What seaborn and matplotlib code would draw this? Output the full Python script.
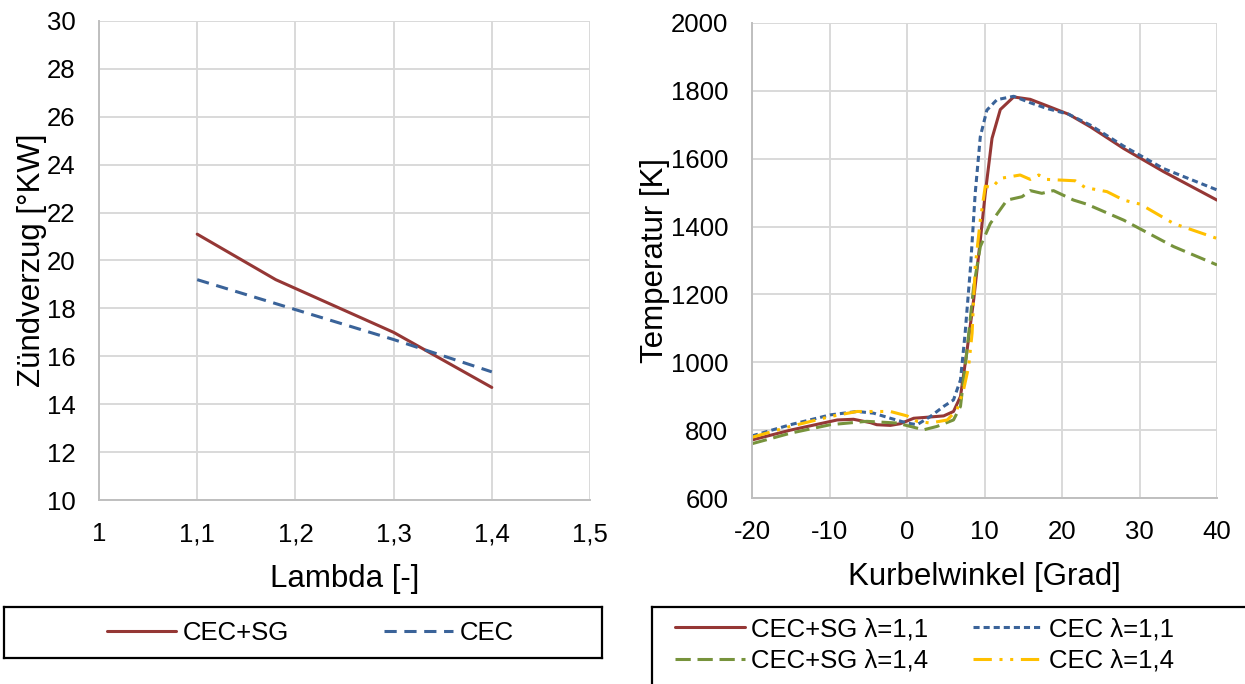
import matplotlib
matplotlib.use("Agg")
import matplotlib.pyplot as plt
import seaborn as sns
import numpy as np
import pandas as pd
from matplotlib.ticker import FuncFormatter

# ---------------- data ----------------
lam_sg = [1.1, 1.18, 1.3, 1.4]
zv_sg = [21.1, 19.2, 17.0, 14.7]
lam_cec = [1.1, 1.2, 1.3, 1.4]
zv_cec = [19.2, 17.95, 16.7, 15.35]

ka_sg11 = [-20, -15.05, -9.0, -6.9, -4.7, -3.9, -2.15, -0.86, 0.86, 2.58, 4.73, 6.0, 6.9, 7.7, 8.6,
           9.46, 10.1, 10.97, 12.04, 13.76, 15.9, 18.06, 20.86, 23.66, 27.96, 33.1, 40]
t_sg11 = [771, 800, 830, 832, 822, 816, 814, 819, 835, 838, 842, 855, 899, 1027, 1184,
          1360, 1498, 1660, 1745, 1782, 1775, 1756, 1731, 1694, 1630, 1562, 1478]

ka_cec11 = [-20, -15.05, -9.9, -6.45, -4.3, -2.15, 0, 1.3, 3.0, 4.73, 6.0, 6.9, 7.5, 8.2, 8.8,
            9.46, 10.3, 11.6, 13.76, 15.9, 18.06, 20.86, 23.66, 27.96, 33.1, 40]
t_cec11 = [783, 816, 845, 855, 850, 835, 821, 816, 840, 870, 889, 948, 1086, 1282, 1498,
           1665, 1743, 1774, 1784, 1765, 1748, 1731, 1699, 1637, 1571, 1508]

ka_sg14 = [-20, -15.05, -9.9, -5.2, -1.3, 0.43, 2.15, 3.87, 6.0, 6.9, 7.7, 8.6, 9.46, 10.75,
           12.9, 14.84, 15.9, 17.4, 18.9, 21.5, 23.2, 27.96, 34.4, 40]
t_sg14 = [760, 791, 816, 826, 821, 811, 801, 811, 830, 870, 1027, 1223, 1341, 1409,
          1478, 1488, 1506, 1498, 1506, 1478, 1466, 1419, 1341, 1287]

ka_cec14 = [-20, -15.05, -9.9, -6.45, -2.15, 0, 1.3, 3.0, 5.2, 6.45, 7.3, 7.95, 8.4, 8.8, 9.46,
            10.1, 10.97, 12.04, 14.6, 15.9, 17.0, 18.06, 21.7, 23.0, 25.8, 27.96, 30.1, 34.4, 40]
t_cec14 = [779, 811, 840, 855, 855, 842, 826, 821, 830, 860, 919, 987, 1086, 1282, 1419,
           1519, 1515, 1542, 1552, 1539, 1552, 1539, 1535, 1515, 1503, 1478, 1466, 1409, 1365]

left_xticks = [1.0, 1.1, 1.2, 1.3, 1.4, 1.5]
left_yticks = [10, 12, 14, 16, 18, 20, 22, 24, 26, 28, 30]
right_xticks = [-20, -10, 0, 10, 20, 30, 40]
right_yticks = [600, 800, 1000, 1200, 1400, 1600, 1800, 2000]

# ---------------- style ----------------
sns.set_style("white")
plt.rcParams['font.family'] = ['Liberation Sans', 'DejaVu Sans']
plt.rcParams['axes.unicode_minus'] = False
for k in ['text.color', 'axes.labelcolor', 'xtick.color', 'ytick.color']:
    plt.rcParams[k] = 'black'

RED = "#953735"
BLUE = "#3a6399"
GREEN = "#77933c"
YELLOW = "#ffc000"
GRID = "#d9d9d9"

TICK_FS = 18.5
LABEL_FS = 22.5
LEG_FS = 18.5

W, H = 1245, 684
fig = plt.figure(figsize=(W / 100, H / 100), dpi=100)

def px_axes(x0, y0, x1, y1):
    return fig.add_axes([x0 / W, 1 - y1 / H, (x1 - x0) / W, (y1 - y0) / H])

comma = FuncFormatter(lambda v, p: f"{v:g}".replace('.', ','))

def style_ax(ax):
    ax.grid(True, color=GRID, linewidth=1.4)
    ax.set_axisbelow(True)
    for s in ['top', 'right']:
        ax.spines[s].set_visible(False)
    for s in ['left', 'bottom']:
        ax.spines[s].set_color("#bfbfbf")
        ax.spines[s].set_linewidth(1.4)
    ax.tick_params(axis='y', length=0, labelsize=TICK_FS, colors="black", pad=17)
    ax.tick_params(axis='x', length=0, labelsize=TICK_FS, colors="black", pad=16)

# left chart
ax1 = px_axes(99, 21, 590, 500)
sns.lineplot(x=lam_sg, y=zv_sg, ax=ax1, color=RED, linewidth=2.2, label="CEC+SG", legend=False)
sns.lineplot(x=lam_cec, y=zv_cec, ax=ax1, color=BLUE, linewidth=2.2, linestyle=(0, (4, 2.5)),
             label="CEC", legend=False)
ax1.set_xlim(1.0, 1.5)
ax1.set_ylim(10, 30)
ax1.set_xticks(left_xticks)
ax1.set_yticks(left_yticks)
ax1.xaxis.set_major_formatter(comma)
style_ax(ax1)
ax1.set_xlabel("Lambda [-]", fontsize=LABEL_FS, labelpad=13)
ax1.set_ylabel("Zündverzug [°KW]", fontsize=LABEL_FS, labelpad=0)

# right chart
ax2 = px_axes(752, 23, 1217, 498)
sns.lineplot(x=ka_sg11, y=t_sg11, ax=ax2, color=RED, linewidth=2.2, label="CEC+SG λ=1,1",
             legend=False, sort=False)
sns.lineplot(x=ka_cec11, y=t_cec11, ax=ax2, color=BLUE, linewidth=2.2, linestyle=(0, (2, 1.3)),
             label="CEC λ=1,1", legend=False, sort=False)
sns.lineplot(x=ka_sg14, y=t_sg14, ax=ax2, color=GREEN, linewidth=2.2, linestyle=(0, (5, 2.2)),
             label="CEC+SG λ=1,4", legend=False, sort=False)
sns.lineplot(x=ka_cec14, y=t_cec14, ax=ax2, color=YELLOW, linewidth=2.2,
             linestyle=(0, (6, 2.5, 1, 2.5, 1, 2.5)), label="CEC λ=1,4", legend=False, sort=False)
ax2.set_xlim(-20, 40)
ax2.set_ylim(600, 2000)
ax2.set_xticks(right_xticks)
ax2.set_yticks(right_yticks)
style_ax(ax2)
ax2.set_xlabel("Kurbelwinkel [Grad]", fontsize=LABEL_FS, labelpad=13)
ax2.set_ylabel("Temperatur [K]", fontsize=LABEL_FS, labelpad=1)

# legend boxes
def legend_box(x0, y0, x1, y1):
    a = px_axes(x0, y0, x1, y1)
    a.set_xticks([]); a.set_yticks([])
    a.set_facecolor("none")
    for s in a.spines.values():
        s.set_color("black"); s.set_linewidth(1.6)
    return a

lb1 = legend_box(4, 607, 602, 658)
h1, l1 = ax1.get_legend_handles_labels()
lb1.legend(h1, l1, loc="center", bbox_to_anchor=(0.512, 0.5), ncol=2, frameon=False,
           fontsize=LEG_FS, handlelength=2.7, handletextpad=0.25, columnspacing=3.7)

lb2 = legend_box(652, 607, 1260, 690)
h2, l2 = ax2.get_legend_handles_labels()
order = [0, 2, 1, 3]
lb2.legend([h2[i] for i in order], [l2[i] for i in order], loc="center left",
           bbox_to_anchor=(0.0, 0.542), ncol=2, frameon=False,
           fontsize=LEG_FS, handlelength=2.7, handletextpad=0.25, columnspacing=1.75,
           labelspacing=0.3)

fig.savefig("out.png", dpi=100)
